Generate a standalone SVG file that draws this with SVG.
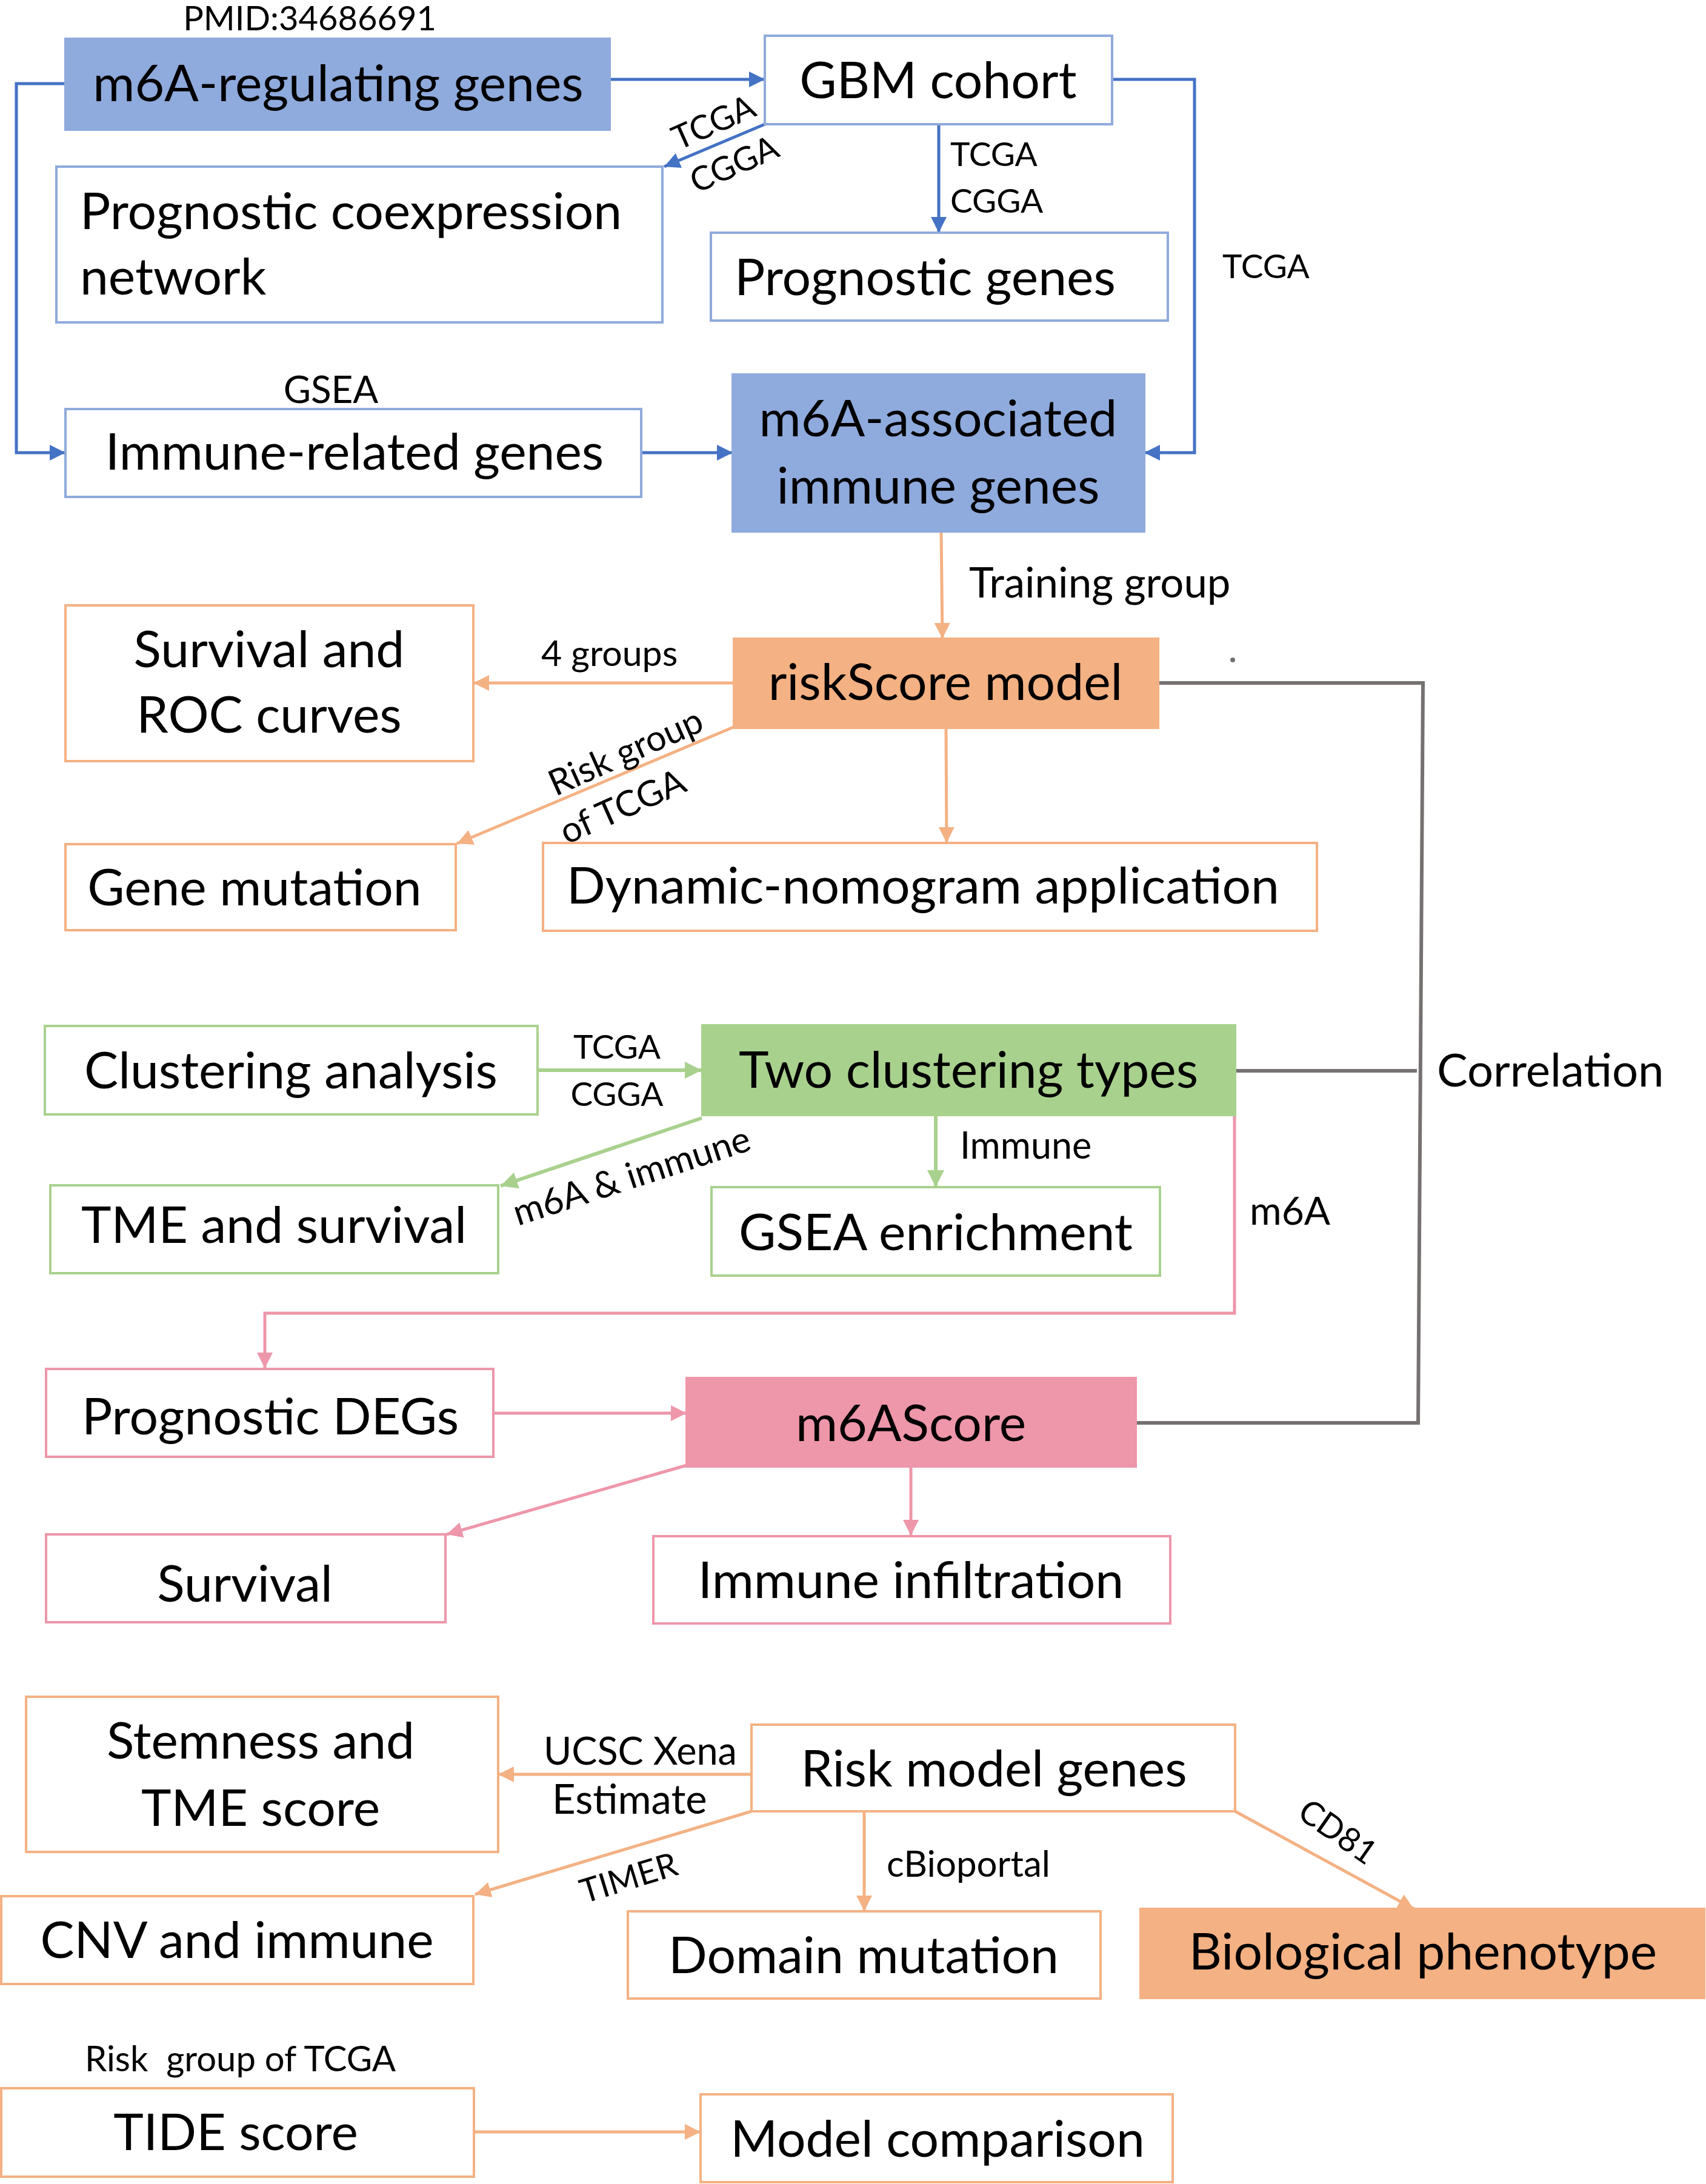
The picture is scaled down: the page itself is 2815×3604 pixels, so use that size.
<svg xmlns="http://www.w3.org/2000/svg" width="2815" height="3604" viewBox="0 0 2815 3604">
<style>
text{font-family:Lato,"Noto Sans","Liberation Sans",sans-serif;fill:#000}
.n{font-size:84px}
.l{font-size:55px}
.c{text-anchor:middle}
.bw{fill:#fff;stroke:#8faadc;stroke-width:4}
.bf{fill:#8faadc;stroke:#8faadc;stroke-width:4}
.ow{fill:#fff;stroke:#f4b183;stroke-width:4}
.of{fill:#f4b183;stroke:#f4b183;stroke-width:4}
.gw{fill:#fff;stroke:#a9d18e;stroke-width:4}
.gf{fill:#a9d18e;stroke:#a9d18e;stroke-width:4}
.pw{fill:#fff;stroke:#ee96aa;stroke-width:4}
.pf{fill:#ee96aa;stroke:#ee96aa;stroke-width:4}
.cb{fill:none;stroke:#4472c4;stroke-width:5;marker-end:url(#ab)}
.co{fill:none;stroke:#f4b183;stroke-width:5;marker-end:url(#ao)}
.cg{fill:none;stroke:#a9d18e;stroke-width:6;marker-end:url(#ag)}
.cp{fill:none;stroke:#ee96aa;stroke-width:5;marker-end:url(#ap)}
.cy{fill:none;stroke:#767171;stroke-width:6}
</style>
<defs>
<marker id="ab" markerUnits="userSpaceOnUse" markerWidth="26" markerHeight="28" viewBox="0 0 10 10" refX="10" refY="5" orient="auto"><path d="M0,0L10,5L0,10z" fill="#4472c4"/></marker>
<marker id="ao" markerUnits="userSpaceOnUse" markerWidth="26" markerHeight="26" viewBox="0 0 10 10" refX="10" refY="5" orient="auto"><path d="M0,0L10,5L0,10z" fill="#f4b183"/></marker>
<marker id="ag" markerUnits="userSpaceOnUse" markerWidth="28" markerHeight="28" viewBox="0 0 10 10" refX="10" refY="5" orient="auto"><path d="M0,0L10,5L0,10z" fill="#a9d18e"/></marker>
<marker id="ap" markerUnits="userSpaceOnUse" markerWidth="26" markerHeight="26" viewBox="0 0 10 10" refX="10" refY="5" orient="auto"><path d="M0,0L10,5L0,10z" fill="#ee96aa"/></marker>
</defs>
<rect width="2815" height="3604" fill="#fff"/>

<g id="connectors">
<path class="cb" d="M1006,131L1262,131"/>
<path class="cb" d="M1262,205L1096,275"/>
<path class="cb" d="M1549,205L1549,384"/>
<path class="cb" d="M1835,131L1971,131L1971,747L1888,747"/>
<path class="cb" d="M108,138L27,138L27,747L108,747"/>
<path class="cb" d="M1058,747L1209,747"/>
<path class="co" d="M1553,877L1555,1054"/>
<path class="co" d="M1211,1127L781,1127"/>
<path class="co" d="M1210,1200L754,1392"/>
<path class="co" d="M1561,1201L1562,1391"/>
<path class="cy" d="M1911,1127L2348,1127L2340,2348L1874,2348"/>
<path class="cy" d="M2038,1767L2338,1767"/>
<circle cx="2034" cy="1089" r="4" fill="#767171"/>
<path class="cg" d="M887,1766L1158,1766"/>
<path class="cg" d="M1158,1845L826,1957"/>
<path class="cg" d="M1544,1840L1544,1959"/>
<path class="cp" d="M2037,1767L2037,2167L437,2167L437,2258"/>
<path class="cp" d="M814,2332L1133,2332"/>
<path class="cp" d="M1133,2418L737,2532"/>
<path class="cp" d="M1503,2420L1503,2534"/>
<path class="co" d="M1240,2928L822,2928"/>
<path class="co" d="M1240,2989L784,3126"/>
<path class="co" d="M1426,2989L1426,3154"/>
<path class="co" d="M2038,2989L2333,3150"/>
<path class="co" d="M782,3518L1156,3518"/>
</g>

<g id="labels">
<text class="c" x="511" y="50" style="font-size:56px">PMID:34686691</text>
<text class="l c" transform="translate(1177,201) rotate(-24)" y="20">TCGA</text>
<text class="l c" transform="translate(1211,270) rotate(-24)" y="20">CGGA</text>
<text class="l" x="1568" y="274">TCGA</text>
<text class="l" x="1568" y="351">CGGA</text>
<text class="l" x="2017" y="459">TCGA</text>
<text class="c" x="546" y="665" style="font-size:62px">GSEA</text>
<text x="1599" y="986" style="font-size:69px">Training group</text>
<text x="893" y="1099" style="font-size:59px">4 groups</text>
<text class="c" transform="translate(1032,1240) rotate(-24)" y="21" style="font-size:59px">Risk group</text>
<text class="c" transform="translate(1027,1330) rotate(-24)" y="21" style="font-size:59px">of TCGA</text>
<text class="l c" x="1018" y="1747">TCGA</text>
<text class="l c" x="1018" y="1825">CGGA</text>
<text class="c" transform="translate(1042,1940) rotate(-18)" y="21" style="font-size:60px">m6A &amp; immune</text>
<text x="1584" y="1912" style="font-size:61px">Immune</text>
<text x="2062" y="2021" style="font-size:64px">m6A</text>
<text x="2371" y="1793" style="font-size:76px">Correlation</text>
<text x="897" y="2912" style="font-size:63px">UCSC Xena</text>
<text x="911" y="2993" style="font-size:67px">Estimate</text>
<text class="l c" transform="translate(1037,3098) rotate(-17)" y="20">TIMER</text>
<text x="1463" y="3097" style="font-size:60px">cBioportal</text>
<text class="l c" transform="translate(2208,3022) rotate(35)" y="20">CD81</text>
<text x="140" y="3418" style="font-size:58px;white-space:pre">Risk  group of TCGA</text>
</g>

<g id="n-m6a-regulating"><rect class="bf" x="108" y="64" width="898" height="150"/><text class="n c" x="558" y="167">m6A-regulating genes</text></g>
<g id="n-gbm"><rect class="bw" x="1262" y="59" width="573" height="146"/><text class="n c" x="1548" y="162">GBM cohort</text></g>
<g id="n-coexpression"><rect class="bw" x="93" y="275" width="1000" height="257"/><text class="n" x="132" y="378">Prognostic coexpression</text><text class="n" x="132" y="486">network</text></g>
<g id="n-prognostic-genes"><rect class="bw" x="1173" y="384" width="754" height="145"/><text class="n" x="1212" y="487">Prognostic genes</text></g>
<g id="n-immune-related"><rect class="bw" x="108" y="675" width="950" height="145"/><text class="n c" x="585" y="775">Immune-related genes</text></g>
<g id="n-m6a-associated"><rect class="bf" x="1209" y="618" width="679" height="259"/><text class="n c" x="1548" y="720">m6A-associated</text><text class="n c" x="1548" y="831">immune genes</text></g>
<g id="n-survival-roc"><rect class="ow" x="108" y="999" width="673" height="257"/><text class="n c" x="444" y="1101">Survival and</text><text class="n c" x="444" y="1209">ROC curves</text></g>
<g id="n-riskscore"><rect class="of" x="1211" y="1054" width="700" height="147"/><text class="n c" x="1560" y="1155">riskScore model</text></g>
<g id="n-gene-mutation"><rect class="ow" x="108" y="1393" width="644" height="142"/><text class="n c" x="420" y="1494">Gene mutation</text></g>
<g id="n-dynamic"><rect class="ow" x="896" y="1391" width="1277" height="145"/><text class="n c" x="1523" y="1491">Dynamic-nomogram application</text></g>
<g id="n-clustering"><rect class="gw" x="74" y="1693" width="813" height="146"/><text class="n c" x="480" y="1796">Clustering analysis</text></g>
<g id="n-two-clustering"><rect class="gf" x="1159" y="1692" width="879" height="148"/><text class="n c" x="1598" y="1795">Two clustering types</text></g>
<g id="n-tme-survival"><rect class="gw" x="83" y="1956" width="739" height="145"/><text class="n c" x="452" y="2051">TME and survival</text></g>
<g id="n-gsea"><rect class="gw" x="1174" y="1959" width="740" height="146"/><text class="n c" x="1544" y="2063">GSEA enrichment</text></g>
<g id="n-degs"><rect class="pw" x="76" y="2259" width="738" height="145"/><text class="n c" x="446" y="2367">Prognostic DEGs</text></g>
<g id="n-m6ascore"><rect class="pf" x="1133" y="2274" width="741" height="146"/><text class="n c" x="1503" y="2378">m6AScore</text></g>
<g id="n-survival"><rect class="pw" x="76" y="2532" width="659" height="145"/><text class="n c" x="404" y="2643">Survival</text></g>
<g id="n-immune-infiltration"><rect class="pw" x="1078" y="2535" width="853" height="144"/><text class="n c" x="1503" y="2637">Immune infiltration</text></g>
<g id="n-stemness"><rect class="ow" x="43" y="2800" width="779" height="256"/><text class="n c" x="430" y="2902">Stemness and</text><text class="n c" x="430" y="3013">TME score</text></g>
<g id="n-risk-model-genes"><rect class="ow" x="1240" y="2846" width="798" height="143"/><text class="n c" x="1640" y="2948">Risk model genes</text></g>
<g id="n-cnv"><rect class="ow" x="2" y="3129" width="779" height="145"/><text class="n c" x="391" y="3231">CNV and immune</text></g>
<g id="n-domain"><rect class="ow" x="1036" y="3154" width="780" height="144"/><text class="n c" x="1425" y="3256">Domain mutation</text></g>
<g id="n-biological"><rect class="of" x="1882" y="3150" width="930" height="147"/><text class="n c" x="2348" y="3250">Biological phenotype</text></g>
<g id="n-tide"><rect class="ow" x="2" y="3446" width="780" height="146"/><text class="n c" x="389" y="3548">TIDE score</text></g>
<g id="n-model-comparison"><rect class="ow" x="1156" y="3456" width="779" height="145"/><text class="n c" x="1547" y="3559">Model comparison</text></g>
</svg>
